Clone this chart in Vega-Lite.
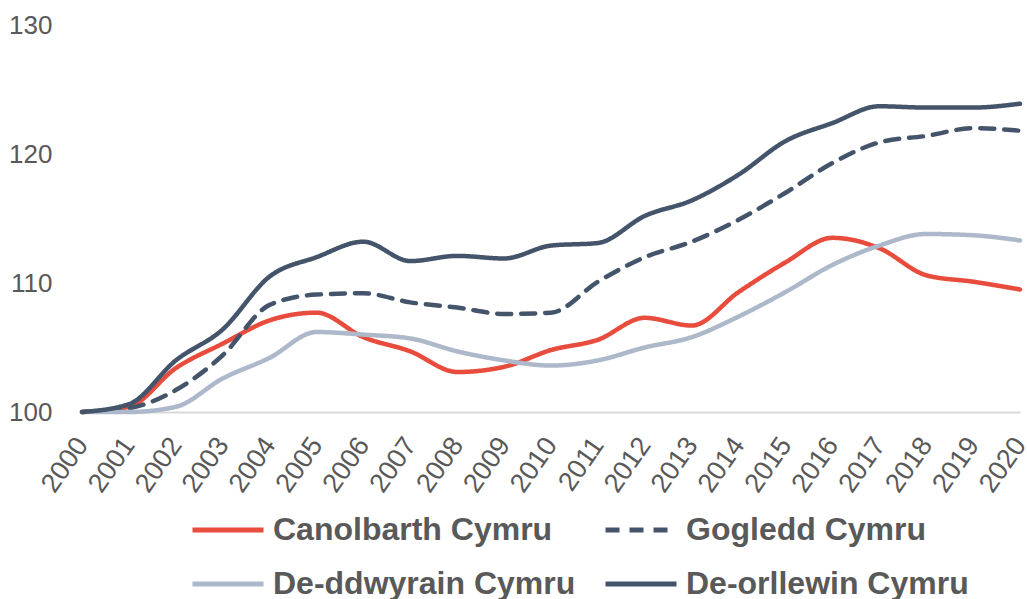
{
  "$schema": "https://vega.github.io/schema/vega-lite/v6.json",
  "autosize": {"type": "none"},
  "padding": {"left": 82, "top": 25, "right": 7, "bottom": 187},
  "width": 938,
  "height": 387,
  "background": "white",
  "config": {
    "view": {"stroke": null},
    "font": "Liberation Sans"
  },
  "data": {
    "values": [
      {"year": "2000", "region": "Canolbarth Cymru", "value": 100},
      {"year": "2001", "region": "Canolbarth Cymru", "value": 100.4},
      {"year": "2002", "region": "Canolbarth Cymru", "value": 103.4},
      {"year": "2003", "region": "Canolbarth Cymru", "value": 105.3},
      {"year": "2004", "region": "Canolbarth Cymru", "value": 107.1},
      {"year": "2005", "region": "Canolbarth Cymru", "value": 107.7},
      {"year": "2006", "region": "Canolbarth Cymru", "value": 105.8},
      {"year": "2007", "region": "Canolbarth Cymru", "value": 104.7},
      {"year": "2008", "region": "Canolbarth Cymru", "value": 103.1},
      {"year": "2009", "region": "Canolbarth Cymru", "value": 103.5},
      {"year": "2010", "region": "Canolbarth Cymru", "value": 104.8},
      {"year": "2011", "region": "Canolbarth Cymru", "value": 105.6},
      {"year": "2012", "region": "Canolbarth Cymru", "value": 107.3},
      {"year": "2013", "region": "Canolbarth Cymru", "value": 106.7},
      {"year": "2014", "region": "Canolbarth Cymru", "value": 109.3},
      {"year": "2015", "region": "Canolbarth Cymru", "value": 111.6},
      {"year": "2016", "region": "Canolbarth Cymru", "value": 113.5},
      {"year": "2017", "region": "Canolbarth Cymru", "value": 112.7},
      {"year": "2018", "region": "Canolbarth Cymru", "value": 110.6},
      {"year": "2019", "region": "Canolbarth Cymru", "value": 110.1},
      {"year": "2020", "region": "Canolbarth Cymru", "value": 109.5},
      {"year": "2000", "region": "Gogledd Cymru", "value": 100},
      {"year": "2001", "region": "Gogledd Cymru", "value": 100.3},
      {"year": "2002", "region": "Gogledd Cymru", "value": 101.7},
      {"year": "2003", "region": "Gogledd Cymru", "value": 104.4},
      {"year": "2004", "region": "Gogledd Cymru", "value": 108.3},
      {"year": "2005", "region": "Gogledd Cymru", "value": 109.1},
      {"year": "2006", "region": "Gogledd Cymru", "value": 109.2},
      {"year": "2007", "region": "Gogledd Cymru", "value": 108.5},
      {"year": "2008", "region": "Gogledd Cymru", "value": 108.1},
      {"year": "2009", "region": "Gogledd Cymru", "value": 107.6},
      {"year": "2010", "region": "Gogledd Cymru", "value": 107.7},
      {"year": "2011", "region": "Gogledd Cymru", "value": 110.1},
      {"year": "2012", "region": "Gogledd Cymru", "value": 112.0},
      {"year": "2013", "region": "Gogledd Cymru", "value": 113.2},
      {"year": "2014", "region": "Gogledd Cymru", "value": 114.9},
      {"year": "2015", "region": "Gogledd Cymru", "value": 117.0},
      {"year": "2016", "region": "Gogledd Cymru", "value": 119.3},
      {"year": "2017", "region": "Gogledd Cymru", "value": 120.9},
      {"year": "2018", "region": "Gogledd Cymru", "value": 121.4},
      {"year": "2019", "region": "Gogledd Cymru", "value": 122.0},
      {"year": "2020", "region": "Gogledd Cymru", "value": 121.8},
      {"year": "2000", "region": "De-ddwyrain Cymru", "value": 100},
      {"year": "2001", "region": "De-ddwyrain Cymru", "value": 100.0},
      {"year": "2002", "region": "De-ddwyrain Cymru", "value": 100.4},
      {"year": "2003", "region": "De-ddwyrain Cymru", "value": 102.6},
      {"year": "2004", "region": "De-ddwyrain Cymru", "value": 104.2},
      {"year": "2005", "region": "De-ddwyrain Cymru", "value": 106.2},
      {"year": "2006", "region": "De-ddwyrain Cymru", "value": 106.0},
      {"year": "2007", "region": "De-ddwyrain Cymru", "value": 105.7},
      {"year": "2008", "region": "De-ddwyrain Cymru", "value": 104.7},
      {"year": "2009", "region": "De-ddwyrain Cymru", "value": 104.0},
      {"year": "2010", "region": "De-ddwyrain Cymru", "value": 103.6},
      {"year": "2011", "region": "De-ddwyrain Cymru", "value": 104.0},
      {"year": "2012", "region": "De-ddwyrain Cymru", "value": 105.0},
      {"year": "2013", "region": "De-ddwyrain Cymru", "value": 105.8},
      {"year": "2014", "region": "De-ddwyrain Cymru", "value": 107.4},
      {"year": "2015", "region": "De-ddwyrain Cymru", "value": 109.3},
      {"year": "2016", "region": "De-ddwyrain Cymru", "value": 111.4},
      {"year": "2017", "region": "De-ddwyrain Cymru", "value": 112.9},
      {"year": "2018", "region": "De-ddwyrain Cymru", "value": 113.8},
      {"year": "2019", "region": "De-ddwyrain Cymru", "value": 113.7},
      {"year": "2020", "region": "De-ddwyrain Cymru", "value": 113.3},
      {"year": "2000", "region": "De-orllewin Cymru", "value": 100},
      {"year": "2001", "region": "De-orllewin Cymru", "value": 100.6},
      {"year": "2002", "region": "De-orllewin Cymru", "value": 104.0},
      {"year": "2003", "region": "De-orllewin Cymru", "value": 106.4},
      {"year": "2004", "region": "De-orllewin Cymru", "value": 110.5},
      {"year": "2005", "region": "De-orllewin Cymru", "value": 112.0},
      {"year": "2006", "region": "De-orllewin Cymru", "value": 113.2},
      {"year": "2007", "region": "De-orllewin Cymru", "value": 111.7},
      {"year": "2008", "region": "De-orllewin Cymru", "value": 112.1},
      {"year": "2009", "region": "De-orllewin Cymru", "value": 111.9},
      {"year": "2010", "region": "De-orllewin Cymru", "value": 112.9},
      {"year": "2011", "region": "De-orllewin Cymru", "value": 113.1},
      {"year": "2012", "region": "De-orllewin Cymru", "value": 115.2},
      {"year": "2013", "region": "De-orllewin Cymru", "value": 116.4},
      {"year": "2014", "region": "De-orllewin Cymru", "value": 118.4},
      {"year": "2015", "region": "De-orllewin Cymru", "value": 121.0},
      {"year": "2016", "region": "De-orllewin Cymru", "value": 122.4},
      {"year": "2017", "region": "De-orllewin Cymru", "value": 123.7},
      {"year": "2018", "region": "De-orllewin Cymru", "value": 123.6},
      {"year": "2019", "region": "De-orllewin Cymru", "value": 123.6},
      {"year": "2020", "region": "De-orllewin Cymru", "value": 123.9}
    ]
  },
  "mark": {"type": "line", "interpolate": "monotone", "strokeWidth": 4.5, "strokeCap": "round"},
  "encoding": {
    "x": {
      "field": "year",
      "type": "ordinal",
      "scale": {"type": "point", "padding": 0},
      "axis": {
        "title": null,
        "labelAngle": -55,
        "labelAlign": "right",
        "labelBaseline": "middle",
        "labelFontSize": 27,
        "labelColor": "#595959",
        "labelPadding": 28,
        "ticks": false,
        "domainColor": "#D9D9D9",
        "domainWidth": 2,
        "grid": false
      }
    },
    "y": {
      "field": "value",
      "type": "quantitative",
      "scale": {"domain": [100, 130], "zero": false},
      "axis": {
        "title": null,
        "values": [100, 110, 120, 130],
        "labelFontSize": 26,
        "labelColor": "#595959",
        "labelPadding": 30,
        "ticks": false,
        "domain": false,
        "grid": false
      }
    },
    "color": {
      "field": "region",
      "type": "nominal",
      "scale": {
        "domain": ["Canolbarth Cymru", "Gogledd Cymru", "De-ddwyrain Cymru", "De-orllewin Cymru"],
        "range": ["#E84C3D", "#44546A", "#ADB9CA", "#44546A"]
      },
      "legend": {
        "title": null,
        "orient": "none",
        "legendX": 108,
        "legendY": 467,
        "direction": "horizontal",
        "columns": 2,
        "symbolType": "stroke",
        "symbolSize": 5041,
        "symbolStrokeWidth": 5,
        "labelFontSize": 32,
        "labelFontWeight": "bold",
        "labelColor": "#595959",
        "labelOffset": 7,
        "columnPadding": 19,
        "rowPadding": -15,
        "labelLimit": 500
      }
    },
    "strokeDash": {
      "field": "region",
      "type": "nominal",
      "scale": {
        "domain": ["Canolbarth Cymru", "Gogledd Cymru", "De-ddwyrain Cymru", "De-orllewin Cymru"],
        "range": [[1, 0], [14, 10], [1, 0], [1, 0]]
      },
      "legend": {
        "title": null,
        "orient": "none",
        "legendX": 108,
        "legendY": 467,
        "direction": "horizontal",
        "columns": 2,
        "symbolType": "stroke",
        "symbolSize": 5041,
        "symbolStrokeWidth": 5,
        "labelFontSize": 32,
        "labelFontWeight": "bold",
        "labelColor": "#595959",
        "labelOffset": 7,
        "columnPadding": 19,
        "rowPadding": -15,
        "labelLimit": 500
      }
    }
  }
}
